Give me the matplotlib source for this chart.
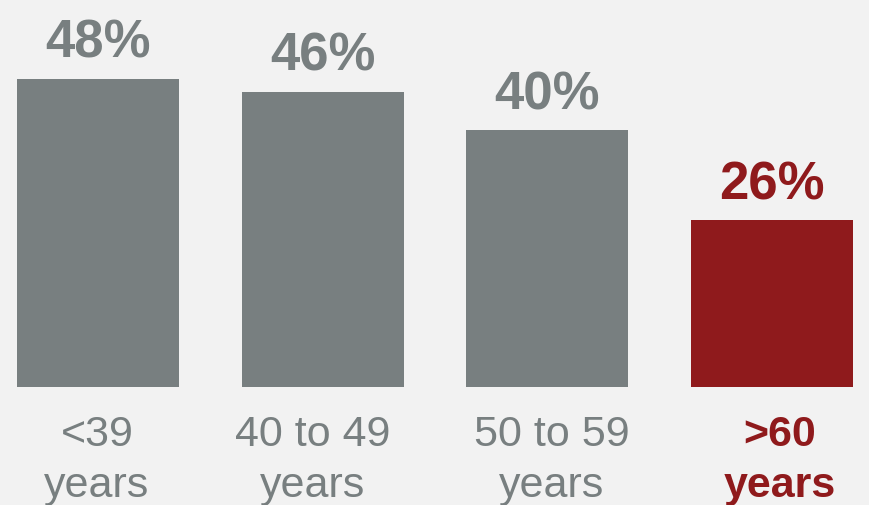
import matplotlib
matplotlib.use('Agg')
import matplotlib.pyplot as plt

# data
groups = ['<39', '40 to 49', '50 to 59', '>60']
values = [48, 46, 40, 26]
highlight = [False, False, False, True]

GRAY = '#787f80'
RED = '#8f1a1c'
BG = '#f2f2f2'

plt.rcParams['font.family'] = ['Liberation Sans', 'DejaVu Sans']

fig = plt.figure(figsize=(8.69, 5.06), dpi=100, facecolor=BG)
ax = fig.add_axes([0, 0, 1, 1])
ax.set_facecolor(BG)

px_x = 224.67     # pixels per category
px_y = 6.42       # pixels per percent
x0, y0 = 98.0, 388.0
label_shift = [-1, -10, 4, 8]   # small horizontal nudges of the category labels, px

xs = list(range(len(groups)))
colors = [RED if h else GRAY for h in highlight]
ax.bar(xs, values, width=162 / px_x, color=colors)

for x, v, g, h, c, dx in zip(xs, values, groups, highlight, colors, label_shift):
    ax.text(x, v + 22 / px_y, '{0}%'.format(v), ha='center', va='baseline',
            fontsize=38, fontweight='bold', color=c)
    w = 'bold' if h else 'normal'
    xl = x + dx / px_x
    ax.text(xl, -58 / px_y, g, ha='center', va='baseline',
            fontsize=31, fontweight=w, color=c)
    ax.text(xl, -109 / px_y, 'years', ha='center', va='baseline',
            fontsize=31, fontweight=w, color=c)

ax.set_xlim(-x0 / px_x, (869 - x0) / px_x)
ax.set_ylim(-(506 - y0) / px_y, y0 / px_y)
ax.axis('off')

fig.savefig('out.png', dpi=100, facecolor=BG)
